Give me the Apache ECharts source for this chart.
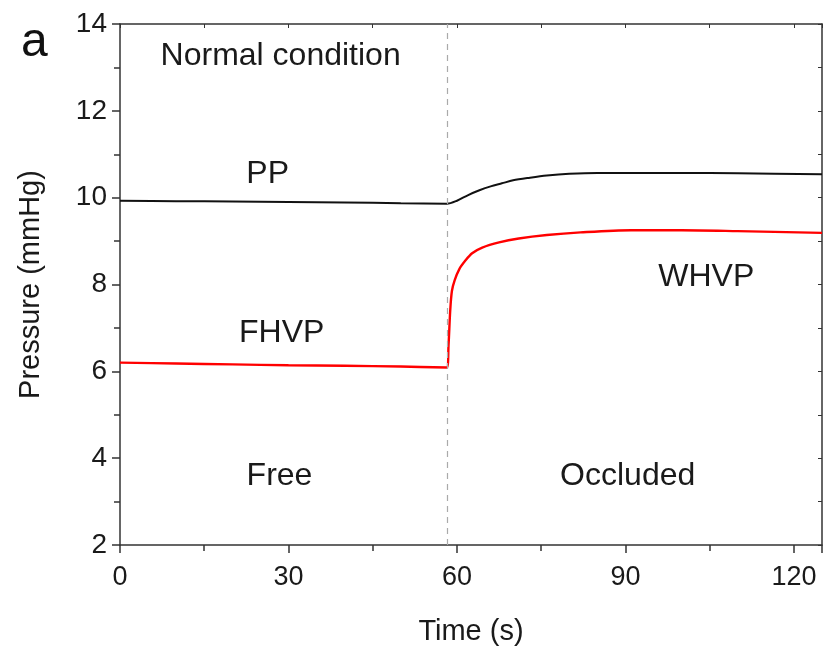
<!DOCTYPE html>
<html>
<head>
<meta charset="utf-8">
<script src="https://cdn.jsdelivr.net/npm/echarts@6/dist/echarts.min.js"></script>
<style>
  html, body { margin: 0; padding: 0; background: #fff; }
  #chart { width: 831px; height: 654px; }
</style>
</head>
<body>
<div id="chart"></div>
<script>
    // portal pressure (PP), black curve
    var ppTime = [0, 10, 20, 30, 40, 50, 58.2, 60, 62, 64, 66, 68, 70, 73, 76, 80, 85, 90, 100, 110, 125];
    var ppValues = [9.93, 9.92, 9.91, 9.9, 9.89, 9.87, 9.86, 9.93, 10.06, 10.17, 10.26, 10.33, 10.4, 10.46, 10.51, 10.55, 10.57, 10.57, 10.57, 10.56, 10.54];

    // hepatic venous pressure, free (FHVP) then wedged (WHVP), red curve
    var hvpTime = [0, 10, 20, 30, 40, 50, 58.2, 58.5, 58.8, 59.1, 59.6, 60.4, 61.5, 62.7, 64.5, 67.5, 71, 76, 82, 91, 100, 110, 125];
    var hvpValues = [6.2, 6.18, 6.16, 6.14, 6.13, 6.11, 6.09, 6.6, 7.4, 7.85, 8.1, 8.35, 8.55, 8.72, 8.85, 8.97, 9.06, 9.14, 9.2, 9.25, 9.25, 9.23, 9.19];

    var occlusionTime = 58.2;

    // text annotations in data coordinates
    var noteText = ['Normal condition', 'PP', 'FHVP', 'WHVP', 'Free', 'Occluded'];
    var noteX = [28.6, 26.3, 28.8, 104.4, 28.4, 90.4];
    var noteY = [13.26, 10.55, 6.89, 8.16, 3.59, 3.59];

    function pairs(xs, ys) {
        return xs.map(function (x, i) { return [x, ys[i]]; });
    }

    var chart = echarts.init(document.getElementById('chart'));
    var axisColor = '#333';
    var textColor = '#1a1a1a';
    var font = 'Liberation Sans';

    chart.setOption({
        animation: false,
        backgroundColor: '#fff',
        grid: { left: 120, right: 9, top: 24, bottom: 109 },
        graphic: [{
            type: 'text', left: 21, top: 19,
            style: { text: 'a', font: '48px "Liberation Sans"', fill: '#111' }
        }],
        xAxis: [{
            type: 'value', min: 0, max: 125, interval: 30,
            name: 'Time (s)', nameLocation: 'middle', nameGap: 72,
            nameTextStyle: { fontFamily: font, fontSize: 29, color: textColor },
            axisLine: { lineStyle: { color: axisColor, width: 1.5 } },
            axisTick: { inside: false, length: 8, lineStyle: { color: axisColor, width: 1.5 } },
            minorTick: { show: true, splitNumber: 2, length: 6, lineStyle: { color: axisColor, width: 1.5 } },
            axisLabel: { fontFamily: font, fontSize: 27, color: textColor, margin: 19,
                showMaxLabel: false },
            splitLine: { show: false }
        }, {
            type: 'value', position: 'top', min: 0, max: 125, interval: 15,
            axisLine: { show: true, onZero: false, lineStyle: { color: axisColor, width: 1.5 } },
            axisTick: { inside: true, length: 4, lineStyle: { color: axisColor } },
            axisLabel: { show: false },
            splitLine: { show: false }
        }],
        yAxis: [{
            type: 'value', min: 2, max: 14, interval: 2,
            name: 'Pressure (mmHg)', nameLocation: 'middle', nameGap: 75,
            nameTextStyle: { fontFamily: font, fontSize: 29, color: textColor },
            axisLine: { lineStyle: { color: axisColor, width: 1.5 } },
            axisTick: { inside: false, length: 8, lineStyle: { color: axisColor, width: 1.5 } },
            minorTick: { show: true, splitNumber: 2, length: 6, lineStyle: { color: axisColor, width: 1.5 } },
            axisLabel: { fontFamily: font, fontSize: 28, color: textColor, margin: 13 },
            splitLine: { show: false }
        }, {
            type: 'value', position: 'right', min: 2, max: 14, interval: 1,
            axisLine: { show: true, onZero: false, lineStyle: { color: axisColor, width: 1.5 } },
            axisTick: { inside: true, length: 4, lineStyle: { color: axisColor } },
            axisLabel: { show: false },
            splitLine: { show: false }
        }],
        series: [{
            name: 'PP', type: 'line', data: pairs(ppTime, ppValues),
            showSymbol: false, smooth: 0.3,
            lineStyle: { color: '#111', width: 2 },
            markLine: {
                silent: true, symbol: 'none', label: { show: false },
                lineStyle: { color: '#aaa', type: [6, 5], width: 1.2 },
                data: [{ xAxis: occlusionTime }]
            }
        }, {
            name: 'HVP', type: 'line', data: pairs(hvpTime, hvpValues),
            showSymbol: false, smooth: 0.3,
            lineStyle: { color: '#ff0000', width: 2.4 }
        }, {
            name: 'notes', type: 'scatter', symbolSize: 0, silent: true,
            itemStyle: { opacity: 1 },
            data: noteText.map(function (t, i) { return { value: [noteX[i], noteY[i]], name: t }; }),
            label: {
                show: true, position: 'inside', formatter: '{b}',
                fontFamily: font, fontSize: 32, color: textColor
            }
        }]
    });
</script>
</body>
</html>
